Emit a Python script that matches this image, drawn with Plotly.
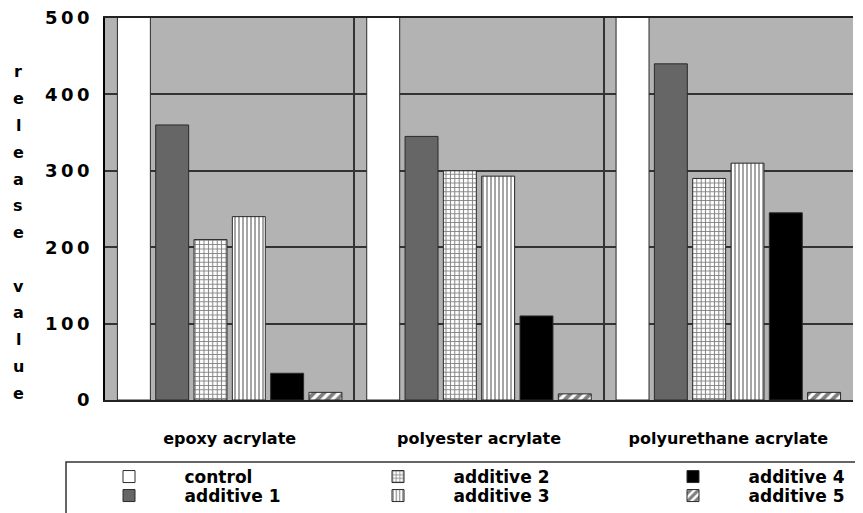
import plotly.graph_objects as go

categories = ["epoxy acrylate", "polyester acrylate", "polyurethane acrylate"]
control = [600, 600, 600]
additive_1 = [360, 345, 440]
additive_2 = [210, 300, 290]
additive_3 = [240, 293, 310]
additive_4 = [35, 110, 245]
additive_5 = [10, 8, 10]
y_ticks = [0, 100, 200, 300, 400, 500]
y_title = "release value"

NB = "\u00a0"
TS = "\u2009"
FONT = "DejaVu Sans, Liberation Sans, Arial, sans-serif"
line = dict(color="#2a2a2a", width=1)

# page offset of the plot div (browser body margin)
OFF = 8
W, H = 863 - OFF, 513 - OFF
L, R, T, B = 105 - OFF, 10, 18 - OFF, 113
pw, ph = W - L - R, H - T - B

def px_x(p):
    return (p - OFF - L) / pw

def px_y(p):
    return (H - B - (p - OFF)) / ph

# name, values, marker, legend column symbol x, legend row y
series = [
    ("control", control, dict(color="white", line=line), 128, 477),
    ("additive 1", additive_1, dict(color="#666666", line=line), 128, 496),
    ("additive 2", additive_2, dict(color="white", line=line,
        pattern=dict(shape="+", fgcolor="black", bgcolor="white", size=4.4, solidity=0.4)), 397, 477),
    ("additive 3", additive_3, dict(color="white", line=line,
        pattern=dict(shape="|", fgcolor="black", bgcolor="white", size=4, solidity=0.35)), 397, 496),
    ("additive 4", additive_4, dict(color="black", line=line), 692, 477),
    ("additive 5", additive_5, dict(color="white", line=line,
        pattern=dict(shape="/", fgcolor="black", bgcolor="white", size=7, solidity=0.55)), 692, 496),
]

fig = go.Figure()
legends = {}
legend_font = dict(family=FONT, size=17, color="black", weight="bold")
for k, (name, vals, marker, sx, sy) in enumerate(series):
    key = "legend" if k == 0 else f"legend{k + 1}"
    fig.add_trace(go.Bar(x=categories, y=vals, name=NB * 6 + name, marker=marker,
                         legend=key))
    legends[key] = dict(orientation="v", bgcolor="rgba(0,0,0,0)", borderwidth=0,
                        font=legend_font, xanchor="left", yanchor="middle",
                        x=px_x(sx - 19), y=px_y(sy))

fig.update_layout(
    width=W, height=H,
    margin=dict(l=L, r=R, t=T, b=B, autoexpand=False),
    paper_bgcolor="white", plot_bgcolor="#b3b3b3",
    barmode="group", bargap=0.078, bargroupgap=0.14,
    showlegend=True,
    font=dict(family=FONT, color="black"),
    **legends,
)

fig.update_xaxes(
    tickson="boundaries", showgrid=True, gridcolor="#333333", gridwidth=1.5,
    showline=True, linecolor="#222222", linewidth=2, mirror=True,
    ticks="", tickfont=dict(family=FONT, size=16, color="black", weight="bold"),
    ticklabelstandoff=23,
)
fig.update_yaxes(
    range=[0, 500], tickvals=y_ticks,
    ticktext=[TS.join(str(v)) for v in y_ticks],
    showgrid=True, gridcolor="#333333", gridwidth=1.5,
    showline=True, linecolor="black", linewidth=1.5, zeroline=False,
    ticks="", tickfont=dict(family=FONT, size=18, color="black", weight="bold"),
    ticklabelstandoff=10, ticklabeloverflow="allow",
)

# vertical stacked axis title
start, step = 72, 26.75
for i, ch in enumerate(y_title):
    if ch == " ":
        continue
    fig.add_annotation(text=ch, xref="paper", yref="paper",
                       x=px_x(18), y=px_y(start + i * step),
                       xanchor="center", yanchor="middle", showarrow=False,
                       font=dict(family=FONT, size=16, color="black", weight="bold"))

# legend frame (bottom edge falls outside the picture)
fig.add_shape(type="rect", xref="paper", yref="paper",
              x0=px_x(66), x1=px_x(880), y0=px_y(462), y1=px_y(540),
              line=dict(color="#333333", width=1.5), fillcolor="rgba(0,0,0,0)")

fig.write_html("out.html")
